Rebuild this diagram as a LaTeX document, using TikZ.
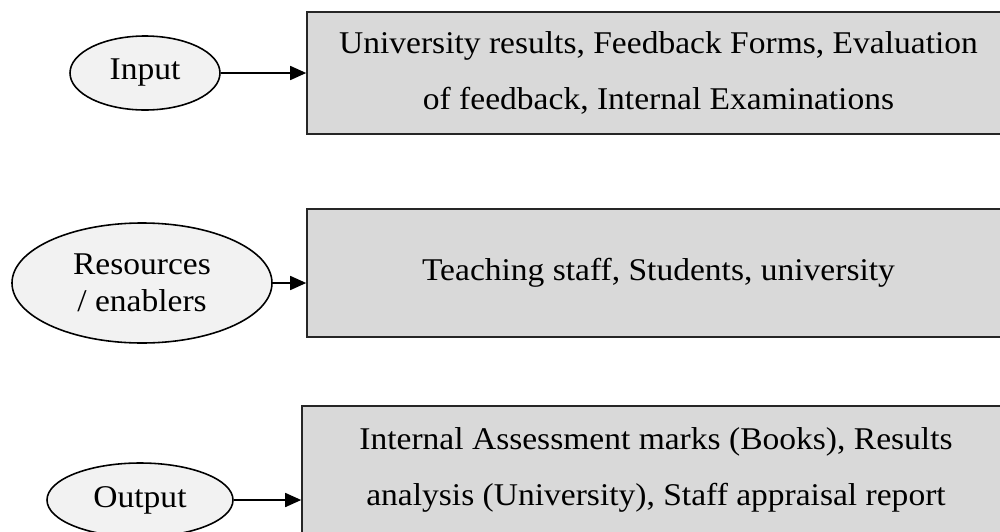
\documentclass[tikz,border=0pt]{standalone}
\usepackage{fontspec}
\setmainfont{Liberation Serif}[FakeStretch=1.06]
\usetikzlibrary{shapes.geometric,arrows.meta}

\begin{document}
\begin{tikzpicture}[line width=0.9pt,
    oval/.style={ellipse,draw,fill=ovalgray,inner sep=0pt,
      font=\fontsize{18}{21}\selectfont,align=center},
    infobox/.style={rectangle,draw=black!85,fill=boxgray,inner sep=0pt,
      minimum width=14.06cm,font=\fontsize{18}{32}\selectfont,align=center},
    link/.style={-{Triangle[length=0.32cm,width=0.28cm]}}]
  \definecolor{ovalgray}{HTML}{F2F2F2}
  \definecolor{boxgray}{HTML}{D9D9D9}
  \useasboundingbox (0,0) rectangle (20,-10.62);
  \clip (0,0) rectangle (20,-10.62);
  % input
  \node[oval,minimum width=3.0cm,minimum height=1.48cm] (input) at (2.9,-1.46) {Input};
  \node[infobox,minimum height=2.44cm] (inbox) at (13.17,-1.46)
    {University results, Feedback Forms, Evaluation\\of feedback, Internal Examinations};
  \draw[link] (input.east) -- (inbox.west);
  % resources
  \node[oval,minimum width=5.2cm,minimum height=2.4cm] (resources) at (2.84,-5.66) {Resources\\/ enablers};
  \node[infobox,minimum height=2.56cm] (resbox) at (13.17,-5.46)
    {Teaching staff, Students, university};
  \draw[link] (resources.east) -- (resources.east -| resbox.west);
  % output
  \node[oval,minimum width=3.72cm,minimum height=1.48cm] (output) at (2.8,-10.0) {Output};
  \node[infobox,minimum width=14.16cm,minimum height=2.56cm] (outbox) at (13.12,-9.4)
    {Internal Assessment marks (Books), Results\\analysis (University), Staff appraisal report};
  \draw[link] (output.east) -- (output.east -| outbox.west);
\end{tikzpicture}
\end{document}
